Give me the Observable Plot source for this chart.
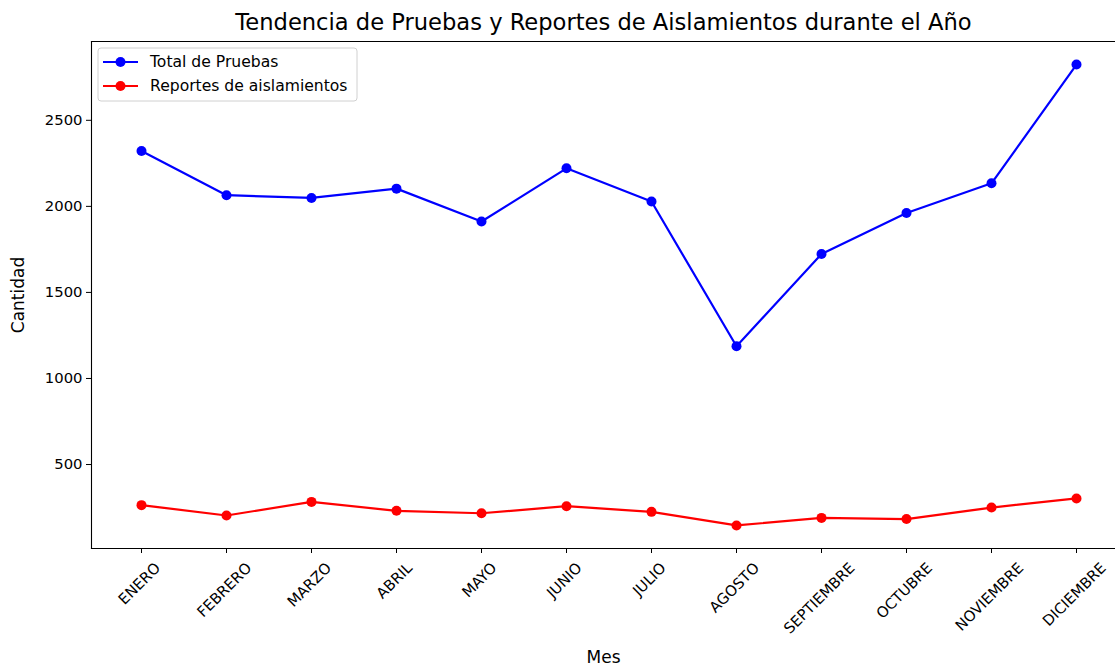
<!DOCTYPE html>
<html>
<head>
<meta charset="utf-8">
<script src="https://cdn.jsdelivr.net/npm/d3@7"></script>
<script src="https://cdn.jsdelivr.net/npm/@observablehq/plot@0.6"></script>
<style>
  html, body { margin: 0; padding: 0; background: #fff; }
  #chart svg { display: block; }
</style>
</head>
<body>
<div id="chart"></div>
<script>
const months = ["ENERO", "FEBRERO", "MARZO", "ABRIL", "MAYO", "JUNIO", "JULIO", "AGOSTO", "SEPTIEMBRE", "OCTUBRE", "NOVIEMBRE", "DICIEMBRE"];
const totalPruebas = [2322, 2065, 2049, 2103, 1912, 2221, 2028, 1187, 1723, 1961, 2134, 2824];
const reportesAislamientos = [264, 204, 283, 231, 217, 258, 225, 146, 190, 183, 250, 303];
const seriesNames = ["Total de Pruebas", "Reportes de aislamientos"];
const seriesColors = ["#0000ff", "#ff0000"];
const yTicks = [500, 1000, 1500, 2000, 2500];
const titleText = "Tendencia de Pruebas y Reportes de Aislamientos durante el Año";
const xLabel = "Mes";
const yLabel = "Cantidad";

const data = months.flatMap((m, i) => [
  { mes: m, serie: seriesNames[0], valor: totalPruebas[i] },
  { mes: m, serie: seriesNames[1], valor: reportesAislamientos[i] }
]);

// matplotlib-like 5% margins on the y domain
const allVals = totalPruebas.concat(reportesAislamientos);
const vMin = d3.min(allVals), vMax = d3.max(allVals);
const pad = (vMax - vMin) * 0.05;

const FONT = "DejaVu Sans, sans-serif";
const TICK_FS = 14.8;
const LEGEND_FS = 15.6;

const chart = Plot.plot({
  width: 1115,
  height: 667,
  marginTop: 41,
  marginBottom: 119,
  marginLeft: 91,
  marginRight: 0,
  style: { fontFamily: FONT, fontSize: TICK_FS + "px", color: "#000", background: "#fff", overflow: "visible" },
  x: { type: "point", domain: months, padding: 0.55, insetRight: -10, label: null },
  y: { domain: [vMin - pad, vMax + pad], label: null },
  color: { domain: seriesNames, range: seriesColors },
  marks: [
    Plot.frame({ anchor: "top", stroke: "#000", strokeWidth: 1.1 }),
    Plot.frame({ anchor: "left", stroke: "#000", strokeWidth: 1.1 }),
    Plot.frame({ anchor: "bottom", stroke: "#000", strokeWidth: 1.1 }),
    Plot.axisY({ ticks: yTicks, tickSize: 5, tickPadding: 4, label: null, fontSize: TICK_FS, tickFormat: d => String(d) }),
    Plot.axisX({ tickSize: 5, tickFormat: () => "", label: null }),
    Plot.text(months, { x: d => d, frameAnchor: "bottom", rotate: -45, textAnchor: "middle", lineAnchor: "middle", fontSize: TICK_FS }),
    Plot.line(data, { x: "mes", y: "valor", stroke: "serie", strokeWidth: 2.2 }),
    Plot.dot(data, { x: "mes", y: "valor", fill: "serie", r: 5, stroke: null }),
    Plot.text([yLabel], { frameAnchor: "left", textAnchor: "middle", rotate: -90, dx: -73, fontSize: 17, lineAnchor: "middle" }),
    Plot.text([xLabel], { frameAnchor: "bottom", textAnchor: "middle", dy: 109, fontSize: 17, lineAnchor: "middle" }),
    Plot.text([titleText], { frameAnchor: "top", textAnchor: "middle", dy: -19, fontSize: 22.6, lineAnchor: "middle" })
  ]
});

document.getElementById("chart").append(chart);

const svgNode = chart.tagName.toLowerCase() === "svg" ? chart : chart.querySelector("svg");
const svg = d3.select(svgNode);

// matplotlib-style rotated tick labels: center of the rotated box sits under the tick
svg.selectAll("text").filter(function () {
  return months.includes(this.textContent);
}).each(function () {
  const el = d3.select(this);
  const tr = el.attr("transform") || "";
  const m = tr.match(/translate\(\s*([-\d.eE]+)[\s,]+([-\d.eE]+)\s*\)/);
  if (!m) return;
  const x = +m[1], y = +m[2];
  const L = this.getComputedTextLength();
  const h = TICK_FS * 1.15;
  const H = (L + h) * Math.SQRT1_2;
  el.attr("transform", `translate(${x - 2},${y + 5 + 6 + H / 2}) rotate(-45)`);
});

// legend (matplotlib style, upper left)
const lg = svg.append("g").attr("font-family", FONT).attr("font-size", LEGEND_FS).attr("text-anchor", "start");
lg.append("rect").attr("x", 98).attr("y", 48).attr("width", 259).attr("height", 53)
  .attr("rx", 3).attr("fill", "#fff").attr("fill-opacity", 0.8).attr("stroke", "#d0d0d0");
seriesNames.forEach((name, i) => {
  const yy = 62 + i * 24;
  lg.append("line").attr("x1", 103).attr("x2", 138).attr("y1", yy).attr("y2", yy)
    .attr("stroke", seriesColors[i]).attr("stroke-width", 2.2);
  lg.append("circle").attr("cx", 120.5).attr("cy", yy).attr("r", 5).attr("fill", seriesColors[i]);
  lg.append("text").attr("x", 150).attr("y", yy).attr("dy", "0.35em").attr("fill", "#000").attr("text-anchor", "start").text(name);
});
</script>
</body>
</html>
